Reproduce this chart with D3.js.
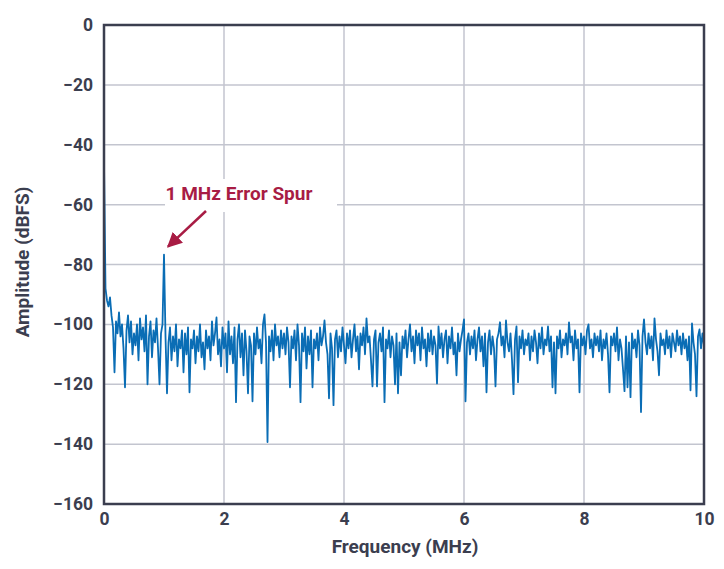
<!DOCTYPE html>
<html>
<head>
<meta charset="utf-8">
<script src="https://cdn.jsdelivr.net/npm/d3@7"></script>
<style>
  html, body { margin: 0; padding: 0; background: #fff; }
  svg { display: block; }
</style>
</head>
<body>
<svg id="chart" width="724" height="569"></svg>
<script>
// ---- data ----
const freqStartMHz = 0;
const freqStepMHz = 0.025;
const amplitudeDbfs = [
  -46, -88, -92, -94, -91, -97, -101, -116, -99, -103, -96, -104, -100, -108, -121, -102, -97, -106, -99, -110,
  -103, -107, -100, -112, -98, -105, -101, -109, -97, -120, -104, -99, -111, -102, -106, -98, -108, -120, -103, -100,
  -76.7, -104, -123, -106, -101, -112, -104, -109, -100, -114, -105, -108, -102, -116, -103, -110, -101, -122.7, -105, -108,
  -102, -113, -104, -109, -100, -111, -106, -115, -102, -108, -104, -112, -99, -107, -103, -97.7, -110, -105, -114, -101,
  -108, -103, -116, -99, -110, -104, -113, -101, -126, -105, -100, -111, -103, -117, -102, -109, -123, -104, -107, -125.7,
  -103, -110, -101, -108, -105, -113, -100, -96.7, -106, -139.3, -104, -109, -102, -112, -100, -107, -104, -111, -102, -108,
  -103, -110, -101, -106, -121, -104, -108, -102, -112, -100, -107, -126, -103, -109, -101, -114.7, -104, -110, -102, -121,
  -105, -108, -103, -112, -101, -107, -104, -98.7, -106, -110, -124.7, -103, -108, -127, -105, -102, -111, -104, -109, -101,
  -107, -113, -103, -108, -102, -111, -105, -100, -109, -104, -115, -103, -107, -101, -110, -98, -106, -104, -112, -120.7,
  -105, -102, -120.7, -106, -103, -109, -101, -126, -105, -108, -102, -111, -104, -107, -120, -103, -123, -106, -117, -104,
  -108, -102, -111, -105, -100, -109, -104, -113, -102, -107, -103, -112, -101, -108, -105, -114, -103, -109, -102, -110,
  -104, -107, -119.7, -100.7, -108, -103, -111, -105, -102, -113, -104, -108, -101, -110, -106, -117, -103, -109, -105, -102,
  -98.3, -125.7, -106, -103, -110, -104, -108, -102, -112, -105, -101, -109, -104, -114, -103, -122.7, -106, -102, -110, -104,
  -108, -120.7, -105, -103, -99.3, -107, -104, -111, -98.7, -106, -109, -103, -112, -123.3, -105, -100.7, -119.3, -104, -108, -102,
  -110, -105, -107, -103, -112, -104, -109, -102, -106, -113, -103, -108, -101, -110, -105, -107, -100.7, -109, -104, -121,
  -106, -123, -104, -108, -102, -111, -105, -107, -103, -110, -99.3, -106, -104, -112, -102, -108, -105, -122.7, -103, -107,
  -104, -110, -102, -100, -108, -105, -111, -103, -107, -104, -109, -102, -112, -105, -108, -103, -110, -122.7, -104, -107,
  -103, -109, -101, -112, -105, -108, -115, -122.3, -104, -121, -106, -124.3, -103, -108, -105, -111, -102, -107, -129.3, -104,
  -98.3, -106, -110, -103, -108, -104, -112, -98, -105, -109, -117, -103, -107, -105, -110, -102, -108, -104, -111, -103,
  -106, -109, -102, -107, -104, -110, -103, -108, -105, -112, -104, -122, -99.7, -106, -110, -124, -104, -101.7, -108, -103,
  -107
];
const xTicks = [0, 2, 4, 6, 8, 10];
const yTicks = [0, -20, -40, -60, -80, -100, -120, -140, -160];
const xTitle = "Frequency (MHz)";
const yTitle = "Amplitude (dBFS)";
const annotationText = "1 MHz Error Spur";
const spurFreqMHz = 1.0;
const spurDbfs = -76.7;

// ---- layout ----
const W = 724, H = 569;
const margin = { top: 25, right: 20, bottom: 65, left: 104 };
const iw = W - margin.left - margin.right;
const ih = H - margin.top - margin.bottom;

const dark = "#3b3e4f";
const gridC = "#c3c5cf";
const lineC = "#0a6db5";
const annC = "#a81c44";
const font = "Roboto, 'DejaVu Sans', sans-serif";

const svg = d3.select("#chart");
const g = svg.append("g").attr("transform", `translate(${margin.left},${margin.top})`);

const x = d3.scaleLinear().domain([0, 10]).range([0, iw]);
const y = d3.scaleLinear().domain([-160, 0]).range([ih, 0]);

// grid
g.append("g").selectAll("line").data(xTicks.slice(1, -1)).join("line")
  .attr("x1", d => x(d)).attr("x2", d => x(d)).attr("y1", 0).attr("y2", ih)
  .attr("stroke", gridC).attr("stroke-width", 1.5);
g.append("g").selectAll("line").data(yTicks.slice(1, -1)).join("line")
  .attr("x1", 0).attr("x2", iw).attr("y1", d => y(d)).attr("y2", d => y(d))
  .attr("stroke", gridC).attr("stroke-width", 1.5);

// annotation background mask
g.append("rect")
  .attr("x", 165 - margin.left).attr("y", 179 - margin.top)
  .attr("width", 172).attr("height", 33)
  .attr("fill", "#fff");

// data line
const data = amplitudeDbfs.map((v, i) => ({ f: freqStartMHz + i * freqStepMHz, v }));
const line = d3.line().x(d => x(d.f)).y(d => y(d.v));
g.append("path").datum(data)
  .attr("d", line)
  .attr("fill", "none")
  .attr("stroke", lineC)
  .attr("stroke-width", 1.8)
  .attr("stroke-linejoin", "round");

// frame
g.append("rect").attr("x", 0).attr("y", 0).attr("width", iw).attr("height", ih)
  .attr("fill", "none").attr("stroke", dark).attr("stroke-width", 2.5);

// axes (D3 axes, styled)
const fmt = d => (d < 0 ? "\u2212" + Math.abs(d) : String(d));
const yAxis = g.append("g").call(d3.axisLeft(y).tickValues(yTicks).tickFormat(fmt).tickSize(0).tickPadding(11));
const xAxis = g.append("g").attr("transform", `translate(0,${ih})`)
  .call(d3.axisBottom(x).tickValues(xTicks).tickFormat(fmt).tickSize(0).tickPadding(9));
[yAxis, xAxis].forEach(a => {
  a.select(".domain").remove();
  a.selectAll("text").attr("fill", dark).style("font-family", font)
    .style("font-size", "17.5px").style("font-weight", 700);
});

// axis titles
svg.append("text")
  .attr("x", 405).attr("y", 553)
  .attr("text-anchor", "middle")
  .attr("fill", dark).style("font-family", font).style("font-size", "19px").style("font-weight", 700)
  .text(xTitle);
svg.append("text")
  .attr("transform", `translate(29,262) rotate(-90)`)
  .attr("text-anchor", "middle")
  .attr("fill", dark).style("font-family", font).style("font-size", "19px").style("font-weight", 700)
  .text(yTitle);

// annotation
svg.append("text")
  .attr("x", 239).attr("y", 200)
  .attr("text-anchor", "middle")
  .attr("fill", annC).style("font-family", font).style("font-size", "19px").style("font-weight", 700)
  .text(annotationText);

const defs = svg.append("defs");
defs.append("marker").attr("id", "ah")
  .attr("viewBox", "0 0 10 10").attr("refX", 9).attr("refY", 5)
  .attr("markerWidth", 6).attr("markerHeight", 6).attr("markerUnits", "strokeWidth")
  .attr("orient", "auto")
  .append("path").attr("d", "M0,0 L10,5 L0,10 Z").attr("fill", annC);

const tipX = margin.left + x(spurFreqMHz) + 4, tipY = margin.top + (y(spurDbfs)) - 8;
svg.append("line")
  .attr("x1", 206).attr("y1", 211)
  .attr("x2", tipX).attr("y2", tipY)
  .attr("stroke", annC).attr("stroke-width", 2.5)
  .attr("marker-end", "url(#ah)");
</script>
</body>
</html>
